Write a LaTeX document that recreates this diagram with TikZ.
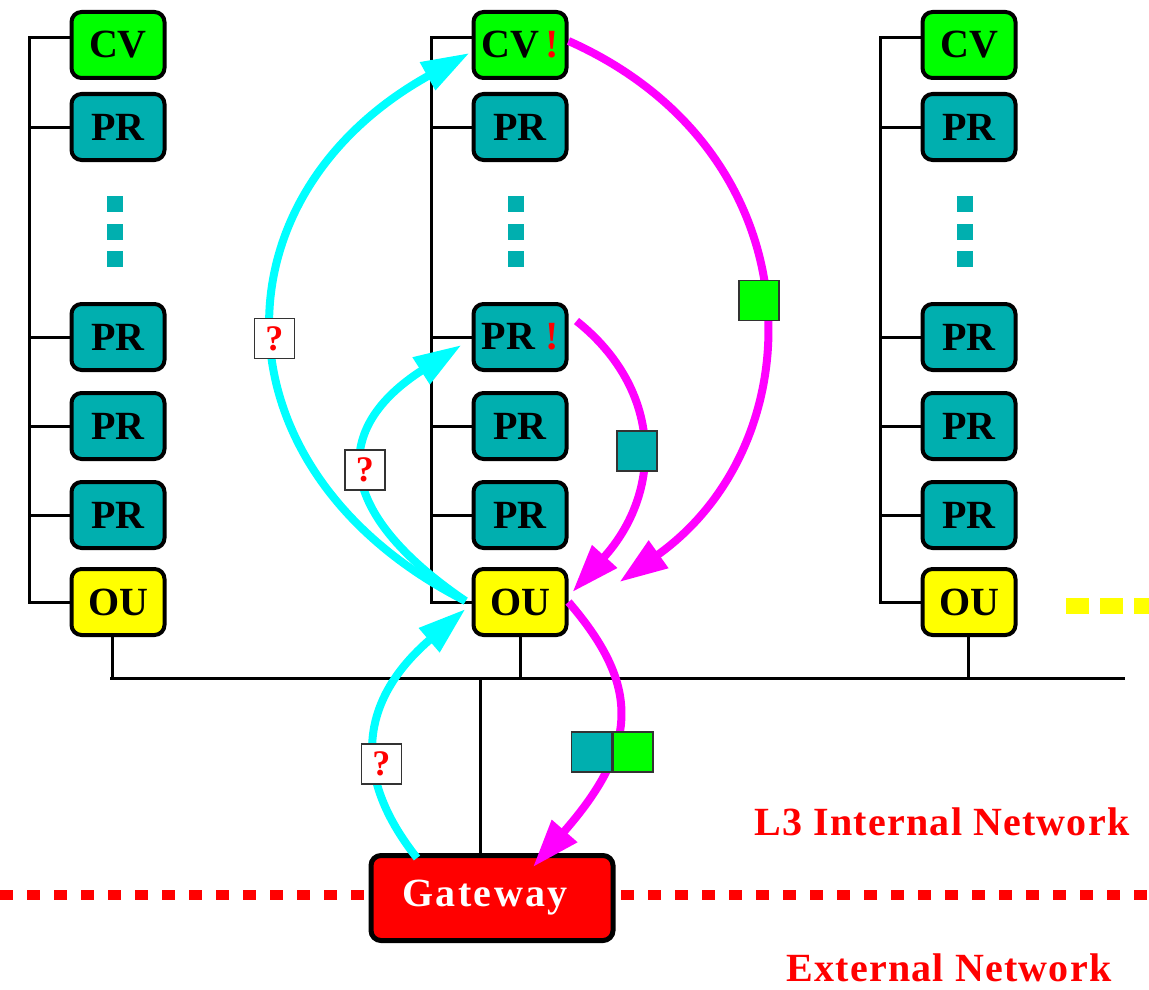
\documentclass[tikz,border=0pt]{standalone}
\usepackage{fontspec}
\setmainfont{Liberation Serif}
\usetikzlibrary{arrows.meta}
\definecolor{cvgreen}{RGB}{0,255,0}
\definecolor{prteal}{RGB}{0,175,175}
\definecolor{ouyellow}{RGB}{255,255,0}
\definecolor{cyanarrow}{RGB}{0,255,255}
\definecolor{magarrow}{RGB}{255,0,255}
\definecolor{gwred}{RGB}{255,0,0}
\begin{document}
\begin{tikzpicture}[x=1pt,y=-1pt,
  box/.style={draw=black, line width=4pt, rounded corners=10pt, minimum width=93pt, minimum height=66pt, inner sep=0pt, font=\fontsize{40}{40}\selectfont\bfseries},
  cvbox/.style={box, fill=cvgreen},
  prbox/.style={box, fill=prteal},
  oubox/.style={box, fill=ouyellow},
  bus/.style={line width=3pt},
  dotsq/.style={fill=prteal, minimum size=16pt, inner sep=0pt},
  carrow/.style={draw=cyanarrow, line width=8pt, -{Triangle[length=48pt,width=30pt]}},
  marrow/.style={draw=magarrow, line width=8pt, -{Triangle[length=48pt,width=32pt]}},
  qbox/.style={draw=black!80, line width=1.5pt, fill=white, minimum size=40pt, inner sep=0pt, text=red, font=\fontsize{36}{36}\selectfont\bfseries},
  sq/.style={draw=black!80, line width=1.5pt, minimum size=40pt, inner sep=0pt},
  gwbox/.style={draw=black, line width=5pt, rounded corners=10pt, fill=gwred, minimum width=242pt, minimum height=85pt, inner sep=0pt, text=white, font=\fontsize{40}{40}\selectfont\bfseries\addfontfeature{LetterSpace=6}},
  netlabel/.style={text=red, inner sep=0pt, font=\fontsize{40}{40}\selectfont\bfseries\addfontfeature{LetterSpace=3}},
]
\useasboundingbox (0,0) rectangle (1149,990);

% red separator line
\draw[gwred, line width=10pt, dash pattern=on 13pt off 14pt] (0,895) -- (1149,895);
% yellow continuation dashes
\draw[ouyellow, line width=16pt, dash pattern=on 23pt off 11pt] (1066,606) -- (1149,606);

% ---------- left column ----------
\node[cvbox] (cvL) at (118,45) {CV};
\node[prbox] (prL1) at (118,127) {PR};
\node[prbox] (prL2) at (118,337) {PR};
\node[prbox] (prL3) at (118,426) {PR};
\node[prbox] (prL4) at (118,515) {PR};
\node[oubox] (ouL) at (118,602) {OU};
\node[dotsq] (dL1) at (115,204) {};
\node[dotsq] (dL2) at (115,232) {};
\node[dotsq] (dL3) at (115,259) {};

% ---------- middle column ----------
\node[cvbox] (cvM) at (520,45) {CV\,\textcolor{red}{!}};
\node[prbox] (prM1) at (520,127) {PR};
\node[prbox] (prM2) at (520,337) {PR \textcolor{red}{!}};
\node[prbox] (prM3) at (520,426) {PR};
\node[prbox] (prM4) at (520,515) {PR};
\node[oubox] (ouM) at (520,602) {OU};
\node[dotsq] (dM1) at (516,204) {};
\node[dotsq] (dM2) at (516,232) {};
\node[dotsq] (dM3) at (516,259) {};

% ---------- right column ----------
\node[cvbox] (cvR) at (969,45) {CV};
\node[prbox] (prR1) at (969,127) {PR};
\node[prbox] (prR2) at (969,337) {PR};
\node[prbox] (prR3) at (969,426) {PR};
\node[prbox] (prR4) at (969,515) {PR};
\node[oubox] (ouR) at (969,602) {OU};
\node[dotsq] (dR1) at (965,204) {};
\node[dotsq] (dR2) at (965,232) {};
\node[dotsq] (dR3) at (965,259) {};

% column buses
\foreach \c in {L,M,R}{
  \draw[bus] ([yshift=7pt]cv\c.west) -| ([xshift=-40pt]ou\c.west) -- (ou\c.west);
  \foreach \r in {1,2,3,4}{
    \draw[bus] (pr\c\r.west) -- ++(-40,0);
  }
}

% backbone
\coordinate (hl) at (110,678);
\coordinate (hr) at (1125,678);
\draw[bus] (hl) -- (hr);
\draw[bus] ([xshift=-6pt]ouL.south) -- ([xshift=-6pt]ouL.south |- hl);
\draw[bus] (ouM.south) -- (ouM.south |- hl);
\draw[bus] ([xshift=-1pt]ouR.south) -- ([xshift=-1pt]ouR.south |- hl);

% gateway
\node[gwbox] (gw) at (492,898) {Gateway\kern14pt};
\draw[bus] ([xshift=-12pt]gw.north) -- ([xshift=-12pt]gw.north |- hl);

% network labels
\node[netlabel] (lint) at (942,822) {L3 Internal Network};
\node[netlabel] (lext) at (949,968) {External Network};

% cyan request arrows
\draw[carrow] ([xshift=-6pt,yshift=1pt]ouM.west) .. controls (210,471) and (210,197) .. ([xshift=-2pt,yshift=-8pt]cvM.west)
  node[qbox, pos=0.49] (q1) {?};
\draw[carrow] ([xshift=-6pt,yshift=1pt]ouM.west) .. controls (332,510) and (332,428) .. ([xshift=-10pt,yshift=-8pt]prM2.west)
  node[qbox, pos=0.5] (q2) {?};
\draw[carrow] ([xshift=-75pt,yshift=-5pt]gw.north) .. controls (355,780) and (355,704) .. ([xshift=-6pt,yshift=-7pt]ouM.west)
  node[qbox, pos=0.4, xshift=6pt] (q3) {?};

% magenta reply arrows
\draw[marrow] ([yshift=4pt]cvM.east) .. controls (818,152) and (818,441) .. ([xshift=51pt,yshift=20pt]ouM.east)
  node[sq, fill=cvgreen, pos=0.5, xshift=-3pt] (g1) {};
\draw[marrow] ([xshift=8pt,yshift=16pt]prM2.east) .. controls (663,390) and (663,492) .. ([xshift=4pt,yshift=10pt]ouM.east)
  node[sq, fill=prteal, pos=0.5, xshift=-4pt, yshift=-6pt] (t1) {};
\draw[marrow] (ouM.east) .. controls (640,685) and (640,745) .. ([xshift=41pt,yshift=-14pt]gw.north)
  node[sq, fill=prteal, anchor=east, pos=0.6, yshift=-7pt] (l3a) {};
\node[sq, fill=cvgreen, anchor=west] (l3b) at (l3a.east) {};
\end{tikzpicture}
\end{document}
